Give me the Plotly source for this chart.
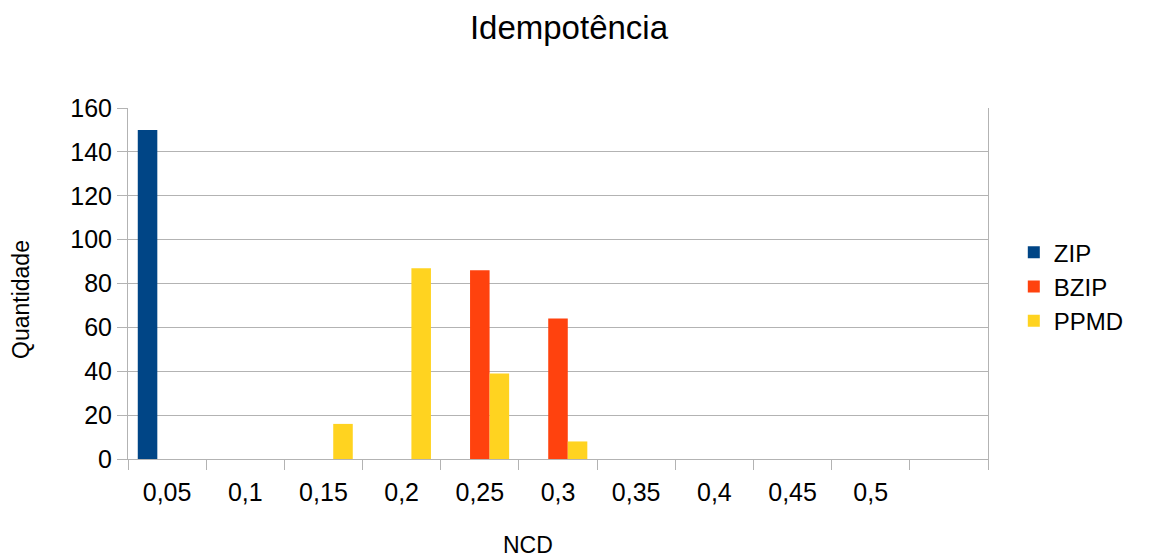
import plotly.graph_objects as go

# NCD bins (the last slot is an empty category, as in the original chart)
categories = ["0,05", "0,1", "0,15", "0,2", "0,25", "0,3", "0,35", "0,4", "0,45", "0,5", " "]
zip_counts = [150, 0, 0, 0, 0, 0, 0, 0, 0, 0, 0]
bzip_counts = [0, 0, 0, 0, 86, 64, 0, 0, 0, 0, 0]
ppmd_counts = [0, 0, 16, 87, 39, 8, 0, 0, 0, 0, 0]
y_ticks = [0, 20, 40, 60, 80, 100, 120, 140, 160]

FONT = "Liberation Sans, Arial, sans-serif"
GRID = "#b3b3b3"

fig = go.Figure()
for name, vals, color in [
    ("ZIP", zip_counts, "#004586"),
    ("BZIP", bzip_counts, "#ff420e"),
    ("PPMD", ppmd_counts, "#ffd320"),
]:
    fig.add_trace(go.Bar(name=name, x=categories, y=vals, marker_color=color,
                         marker_line_width=0))

fig.update_layout(
    width=1160, height=558,
    margin=dict(l=128, r=172, t=108, b=99, autoexpand=False),
    paper_bgcolor="white", plot_bgcolor="white",
    font=dict(family=FONT, color="black"),
    title=dict(text="Idempotência", x=0.4905, xanchor="center", y=0.95, yanchor="middle",
               font=dict(size=33, family=FONT)),
    barmode="group", bargap=0.25, bargroupgap=0,
    legend=dict(x=1.03, xanchor="left", y=0.491, yanchor="middle",
                font=dict(size=24, family=FONT), itemwidth=30),
    showlegend=True,
    annotations=[
        dict(text="NCD", xref="paper", yref="paper", x=0.4651, y=-0.2450,
             xanchor="center", yanchor="middle", showarrow=False,
             font=dict(size=23, family=FONT)),
        dict(text="Quantidade", xref="paper", yref="paper", x=-0.1244, y=0.4530,
             xanchor="center", yanchor="middle", showarrow=False, textangle=-90,
             font=dict(size=23, family=FONT)),
    ],
)
fig.update_xaxes(
    type="category", categoryorder="array", categoryarray=categories,
    tickson="boundaries", ticks="outside", ticklen=10, tickcolor=GRID, tickwidth=1,
    showline=True, linecolor=GRID, linewidth=1, showgrid=False, automargin=False,
    tickfont=dict(size=25, family=FONT), ticklabelstandoff=11,
)
fig.update_yaxes(
    range=[0, 160], tickvals=y_ticks, ticks="outside", ticklen=10, tickcolor=GRID,
    showline=True, mirror=True, linecolor=GRID, linewidth=1, automargin=False,
    showgrid=True, gridcolor=GRID, gridwidth=1, zeroline=False,
    tickfont=dict(size=25, family=FONT),
)

fig.write_html("out.html")
